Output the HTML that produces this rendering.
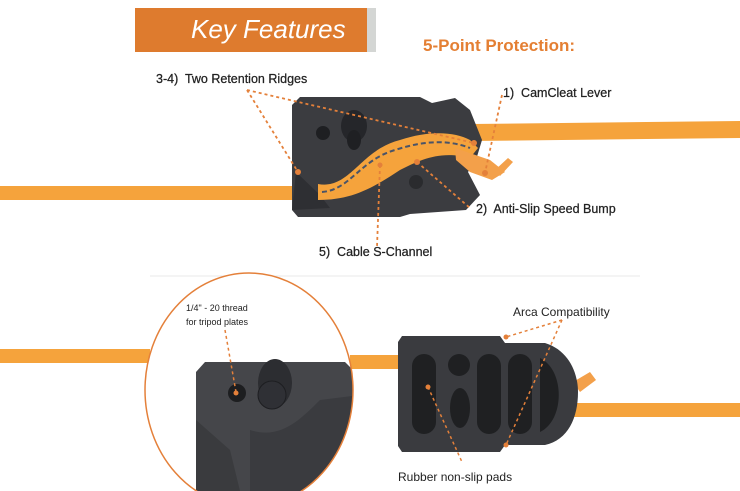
<!DOCTYPE html>
<html><head><meta charset="utf-8"><style>
html,body{margin:0;padding:0;background:#fff;}
svg{display:block;font-family:"Liberation Sans",sans-serif;}
text{white-space:pre;}
</style></head><body>
<svg width="740" height="491" viewBox="0 0 740 491" xmlns="http://www.w3.org/2000/svg">
<rect width="740" height="491" fill="#fff"/>
<!-- header -->
<rect x="135" y="8" width="232" height="44" fill="#de7b2e"/>
<rect x="367" y="8" width="9" height="44" fill="#d4d6d4"/>
<text x="191" y="38" font-size="26" font-style="italic" fill="#fff">Key Features</text>
<text x="423" y="51" font-size="17" font-weight="bold" fill="#e47f33">5-Point Protection:</text>

<!-- top cables -->
<rect x="0" y="186" width="310" height="14" fill="#f5a33c"/>
<path d="M470 124 L740 121 L740 138 L470 141Z" fill="#f5a33c"/>
<!-- top device -->
<path d="M300 97 L420 97 L432 103 L455 98 L470 110 L482 140 L476 160 L468 172 L480 195 L466 210 L410 214 L400 217 L298 217 L292 210 L292 105Z" fill="#3b3c40"/>
<path d="M296 172 L320 195 L330 208 L292 210Z" fill="#2e2f33"/>
<path d="M318 184 C350 190 360 150 400 140 C430 130 455 132 470 140 L478 148 L470 158 C440 150 420 160 400 170 C370 190 350 200 318 200Z" fill="#f5a33c"/>
<path d="M455 148 L490 160 L505 172 L492 180 L470 172 L456 160Z" fill="#f3a04a"/>
<path d="M495 170 L508 158 L513 162 L500 176Z" fill="#f3a04a"/>
<ellipse cx="354" cy="126" rx="13" ry="16" fill="#25262a"/>
<ellipse cx="354" cy="140" rx="7" ry="10" fill="#1f2023"/>
<circle cx="323" cy="133" r="7" fill="#1e1f22"/>
<circle cx="416" cy="182" r="7" fill="#2a2b2e"/>
<path d="M322 192 C350 190 360 160 395 150 C425 140 450 140 470 148" fill="none" stroke="#4a5468" stroke-width="2" stroke-dasharray="5,3"/>
<g stroke="#e4803a" stroke-width="1.8" stroke-dasharray="3,3" fill="none">
<line x1="247" y1="90" x2="474" y2="143"/>
<line x1="247" y1="90" x2="298" y2="172"/>
<line x1="502" y1="95" x2="485" y2="173"/>
<line x1="417" y1="162" x2="470" y2="208"/>
<line x1="380" y1="165" x2="377" y2="247"/>
</g>
<g fill="#e4803a"><circle cx="474" cy="143" r="3"/><circle cx="298" cy="172" r="3"/><circle cx="485" cy="173" r="3"/><circle cx="417" cy="162" r="3"/><circle cx="380" cy="165" r="2.5"/></g>
<g font-size="12.5" fill="#222" stroke="#222" stroke-width="0.25">
<text x="156" y="83">3-4)  Two Retention Ridges</text>
<text x="503" y="97">1)  CamCleat Lever</text>
<text x="476" y="213">2)  Anti-Slip Speed Bump</text>
<text x="319" y="256">5)  Cable S-Channel</text>
</g>
<line x1="150" y1="276" x2="640" y2="276" stroke="#e8e8e8" stroke-width="1"/>

<!-- bottom cables -->
<rect x="0" y="349" width="150" height="14" fill="#f5a33c"/>
<rect x="350" y="355" width="60" height="14" fill="#f5a33c"/>
<rect x="570" y="403" width="170" height="14" fill="#f5a33c"/>
<path d="M573 382 L590 372 L596 380 L580 392Z" fill="#f3a04a"/>
<!-- circle inset -->
<defs><clipPath id="c"><ellipse cx="249" cy="390" rx="104" ry="117"/></clipPath></defs>
<g clip-path="url(#c)">
<rect x="140" y="270" width="220" height="230" fill="#fff"/>
<path d="M205 362 L345 362 L355 372 L360 491 L196 491 L196 372Z" fill="#45464a"/>
<path d="M196 420 L230 450 L240 491 L196 491Z" fill="#3a3b3e"/>
<path d="M250 430 C280 440 300 420 320 400 L360 395 L360 491 L250 491Z" fill="#3a3b3f"/>
<circle cx="237" cy="393" r="9" fill="#1d1e20"/>
<ellipse cx="275" cy="383" rx="17" ry="24" fill="#2c2d31"/>
<circle cx="272" cy="395" r="14" fill="#2f3035" stroke="#1d1e21"/>
</g>
<ellipse cx="249" cy="390" rx="104" ry="117" fill="none" stroke="#e4803a" stroke-width="1.5"/>
<line x1="225" y1="330" x2="236" y2="392" stroke="#e4803a" stroke-width="1.5" stroke-dasharray="3,3"/>
<circle cx="236" cy="393" r="2.5" fill="#e4803a"/>
<text x="186" y="311" font-size="9" fill="#222">1/4" - 20 thread</text>
<text x="186" y="325" font-size="9" fill="#222">for tripod plates</text>

<!-- bottom device -->
<path d="M402 336 L500 336 L505 343 L545 343 C568 350 578 372 578 392 C578 418 568 440 545 445 L505 445 L500 452 L402 452 L398 446 L398 342Z" fill="#3a3b3f"/>
<g fill="#1f2022">
<rect x="412" y="354" width="24" height="80" rx="12"/>
<circle cx="459" cy="365" r="11"/>
<rect x="477" y="354" width="24" height="80" rx="12"/>
<rect x="508" y="354" width="24" height="80" rx="12"/>
<path d="M540 358 C565 370 565 420 540 432Z"/>
<ellipse cx="460" cy="408" rx="10" ry="20"/>
</g>
<g stroke="#e4803a" stroke-width="1.5" stroke-dasharray="3,3" fill="none">
<line x1="562" y1="320" x2="506" y2="337"/>
<line x1="562" y1="320" x2="506" y2="445"/>
<line x1="428" y1="387" x2="462" y2="462"/>
</g>
<g fill="#e4803a"><circle cx="506" cy="337" r="2.5"/><circle cx="506" cy="445" r="2.5"/><circle cx="428" cy="387" r="2.5"/></g>
<text x="513" y="316" font-size="12" fill="#222">Arca Compatibility</text>
<text x="398" y="481" font-size="12" fill="#222">Rubber non-slip pads</text>
</svg>
</body></html>
